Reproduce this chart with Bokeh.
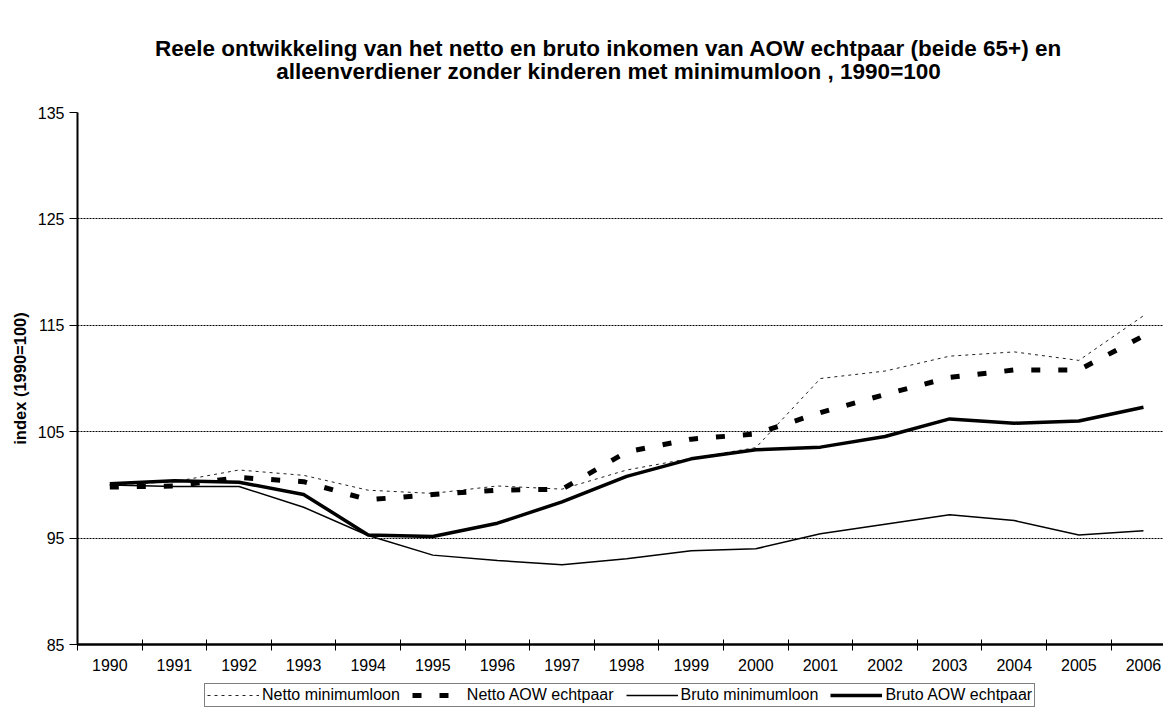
from bokeh.plotting import figure
from bokeh.layouts import column
from bokeh.models import (Range1d, FixedTicker, Legend, LegendItem, LinearAxis)
from bokeh.core.properties import value
from bokeh.embed import file_html
from bokeh.resources import INLINE

years = [str(y) for y in range(1990, 2007)]
netto_minimumloon = [100.0, 100.3, 101.4, 100.9, 99.5, 99.2, 99.9, 99.6, 101.4, 102.5,
                     103.5, 110.0, 110.7, 112.1, 112.5, 111.7, 115.9]
netto_aow = [99.8, 99.9, 100.7, 100.3, 98.6, 99.1, 99.5, 99.6, 103.1, 104.3,
             104.8, 106.8, 108.5, 110.1, 110.8, 110.8, 114.0]
bruto_minimumloon = [100.0, 99.85, 99.85, 97.9, 95.25, 93.4, 92.9, 92.5, 93.05, 93.8,
                     94.0, 95.4, 96.3, 97.2, 96.65, 95.3, 95.7]
bruto_aow = [100.1, 100.4, 100.25, 99.1, 95.3, 95.15, 96.4, 98.4, 100.8, 102.45,
             103.3, 103.55, 104.55, 106.2, 105.8, 106.0, 107.3]
y_ticks = [85, 95, 105, 115, 125, 135]
series_names = ["Netto minimumloon", "Netto AOW echtpaar", "Bruto minimumloon", "Bruto AOW echtpaar"]
title_lines = ["Reele ontwikkeling van het netto en bruto inkomen van AOW echtpaar (beide 65+) en",
               "alleenverdiener zonder kinderen met minimumloon , 1990=100"]

FONT = "Liberation Sans"
xs = list(range(len(years)))
series = [netto_minimumloon, netto_aow, bruto_minimumloon, bruto_aow]

styles = [
    dict(line_color="#222222", line_width=1, line_dash="3 4"),
    dict(line_color="black", line_width=5, line_dash="9 18"),
    dict(line_color="black", line_width=1.5),
    dict(line_color="black", line_width=3.5),
]


def bare(fig):
    fig.title = None
    fig.outline_line_color = None
    fig.xgrid.visible = False
    fig.ygrid.visible = False


# ---- header with the two-line title ----
HEADER_H = 90
hd = figure(width=1163, height=HEADER_H, output_backend="svg", toolbar_location=None,
            x_range=Range1d(77, 1163), y_range=Range1d(HEADER_H, 0), min_border=0,
            x_axis_location=None, y_axis_location=None)
bare(hd)
hd.text(x=[608, 608], y=[48, 71], text=title_lines, text_font=value(FONT),
        text_font_size="22.5px", text_font_style="bold", text_color="black",
        text_align="center", text_baseline="middle")

# ---- main chart ----
p = figure(frame_width=1086, frame_height=532, output_backend="svg", toolbar_location=None,
           x_range=Range1d(-0.5, 16.31), y_range=Range1d(85, 135),
           min_border_left=77, min_border_right=0, min_border_top=112 - HEADER_H,
           min_border_bottom=32, x_axis_location=None, y_axis_location=None)
bare(p)
p.background_fill_color = "white"

yax = LinearAxis(ticker=FixedTicker(ticks=y_ticks, minor_ticks=[]),
                 axis_label="index (1990=100)")
yax.axis_line_width = 2
yax.axis_line_color = "black"
yax.major_tick_out = 8
yax.major_tick_in = 0
yax.major_tick_line_color = "black"
yax.minor_tick_line_color = None
yax.major_label_text_font = FONT
yax.major_label_text_font_size = "16px"
yax.major_label_text_color = "black"
yax.major_label_standoff = 5
yax.axis_label_text_font = FONT
yax.axis_label_text_font_size = "16.5px"
yax.axis_label_text_font_style = "bold"
yax.axis_label_text_color = "black"
yax.axis_label_standoff = 6
p.add_layout(yax, "left")

xax = LinearAxis(ticker=FixedTicker(ticks=xs, minor_ticks=[i - 0.5 for i in range(18)]))
xax.major_label_overrides = {i: y for i, y in enumerate(years)}
xax.axis_line_width = 2.5
xax.axis_line_color = "black"
xax.major_tick_line_color = None
xax.major_tick_out = 0
xax.major_tick_in = 0
xax.minor_tick_line_color = "black"
xax.minor_tick_in = 5
xax.minor_tick_out = 6
xax.minor_tick_line_width = 1
xax.major_label_text_font = FONT
xax.major_label_text_font_size = "16px"
xax.major_label_text_color = "black"
xax.major_label_standoff = 8
p.add_layout(xax, "below")

p.ygrid.visible = True
p.ygrid.ticker = FixedTicker(ticks=y_ticks[1:])
p.ygrid.grid_line_color = "black"
p.ygrid.grid_line_dash = "2 1"
p.ygrid.grid_line_width = 1

for vals, st in zip(series, styles):
    p.line(xs, vals, **st)

# ---- legend strip below the chart ----
lg = figure(width=1163, height=36, output_backend="svg", toolbar_location=None,
            x_range=Range1d(0, 1), y_range=Range1d(0, 1), min_border=0,
            x_axis_location=None, y_axis_location=None)
bare(lg)
items = []
for name, vals, st in zip(series_names, series, styles):
    r = lg.line(xs, vals, **st)  # outside the strip's range: only the legend sample shows
    items.append(LegendItem(label=name, renderers=[r]))
legend = Legend(items=items, orientation="horizontal", location=(127, 5))
legend.label_text_font = FONT
legend.label_text_font_size = "16px"
legend.label_text_color = "black"
legend.glyph_width = 52
legend.glyph_height = 16
legend.label_standoff = 3
legend.spacing = 12
legend.padding = 2
legend.margin = 0
legend.border_line_color = "black"
legend.border_line_width = 1
legend.label_height = 16
lg.add_layout(legend, "center")

layout = column(hd, p, lg, spacing=0)
open("out.html", "w").write(file_html(layout, INLINE))
